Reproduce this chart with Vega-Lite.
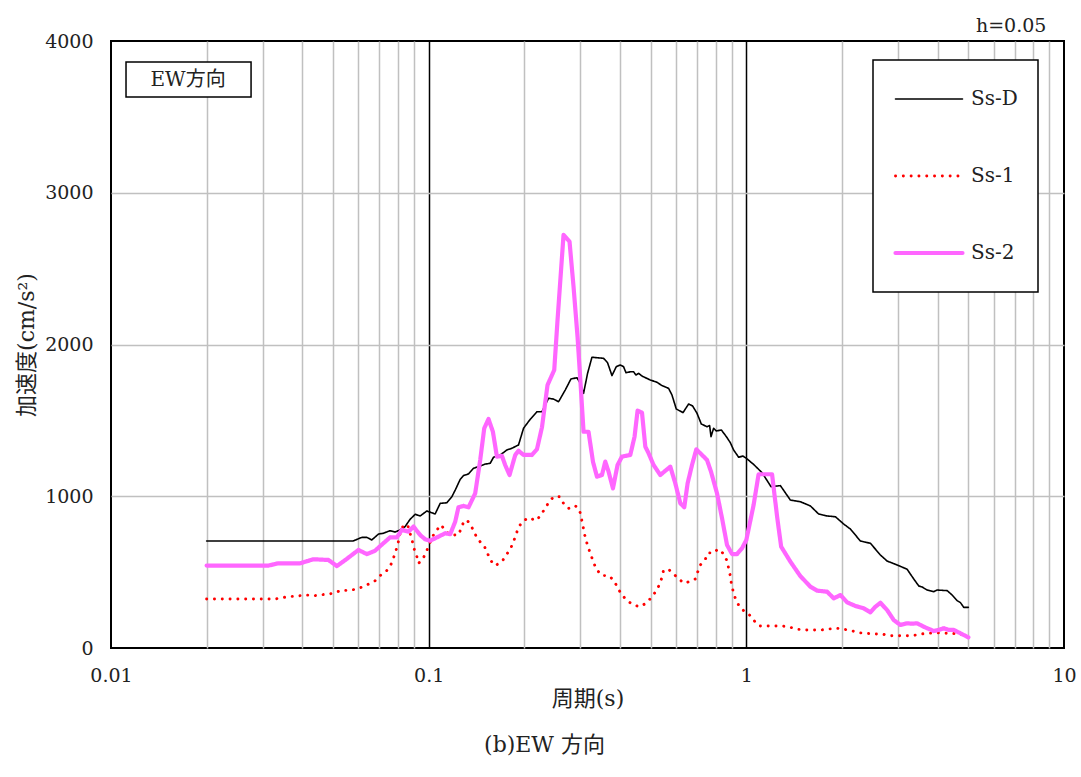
{
  "$schema": "https://vega.github.io/schema/vega-lite/v6.json",
  "width": 953,
  "height": 607,
  "autosize": {"type": "none"},
  "padding": {"left": 111, "top": 41, "right": 17, "bottom": 129},
  "background": "white",
  "title": {"text": "(b)EW 方向", "orient": "bottom", "anchor": "middle", "dx": -43, "offset": 26, "baseline": "top", "fontSize": 22, "fontWeight": "normal", "color": "#222"},
  "datasets": {
    "curves": [
      {"series":"Ss-D","period":0.02,"acc":705},{"series":"Ss-D","period":0.0578,"acc":705},{"series":"Ss-D","period":0.0616,"acc":729},{"series":"Ss-D","period":0.0639,"acc":729},{"series":"Ss-D","period":0.0662,"acc":712},{"series":"Ss-D","period":0.0695,"acc":751},{"series":"Ss-D","period":0.072,"acc":756},{"series":"Ss-D","period":0.0756,"acc":773},{"series":"Ss-D","period":0.0784,"acc":764},{"series":"Ss-D","period":0.0813,"acc":778},{"series":"Ss-D","period":0.0843,"acc":800},{"series":"Ss-D","period":0.0874,"acc":848},{"series":"Ss-D","period":0.0907,"acc":881},{"series":"Ss-D","period":0.094,"acc":870},{"series":"Ss-D","period":0.0987,"acc":903},{"series":"Ss-D","period":0.1048,"acc":883},{"series":"Ss-D","period":0.1087,"acc":953},{"series":"Ss-D","period":0.1141,"acc":957},{"series":"Ss-D","period":0.1183,"acc":997},{"series":"Ss-D","period":0.1212,"acc":1040},{"series":"Ss-D","period":0.1256,"acc":1110},{"series":"Ss-D","period":0.1287,"acc":1136},{"series":"Ss-D","period":0.1335,"acc":1147},{"series":"Ss-D","period":0.1384,"acc":1184},{"series":"Ss-D","period":0.1453,"acc":1199},{"series":"Ss-D","period":0.1507,"acc":1212},{"series":"Ss-D","period":0.1562,"acc":1217},{"series":"Ss-D","period":0.16,"acc":1257},{"series":"Ss-D","period":0.168,"acc":1272},{"series":"Ss-D","period":0.1763,"acc":1305},{"series":"Ss-D","period":0.1828,"acc":1316},{"series":"Ss-D","period":0.1918,"acc":1338},{"series":"Ss-D","period":0.1989,"acc":1448},{"series":"Ss-D","period":0.2088,"acc":1507},{"series":"Ss-D","period":0.2192,"acc":1557},{"series":"Ss-D","period":0.2273,"acc":1557},{"series":"Ss-D","period":0.2384,"acc":1646},{"series":"Ss-D","period":0.2473,"acc":1640},{"series":"Ss-D","period":0.2564,"acc":1623},{"series":"Ss-D","period":0.2691,"acc":1700},{"series":"Ss-D","period":0.2805,"acc":1773},{"series":"Ss-D","period":0.293,"acc":1781},{"series":"Ss-D","period":0.3001,"acc":1744},{"series":"Ss-D","period":0.3073,"acc":1678},{"series":"Ss-D","period":0.3164,"acc":1810},{"series":"Ss-D","period":0.3266,"acc":1916},{"series":"Ss-D","period":0.3553,"acc":1909},{"series":"Ss-D","period":0.3657,"acc":1880},{"series":"Ss-D","period":0.3776,"acc":1795},{"series":"Ss-D","period":0.3896,"acc":1854},{"series":"Ss-D","period":0.401,"acc":1865},{"series":"Ss-D","period":0.4107,"acc":1854},{"series":"Ss-D","period":0.418,"acc":1814},{"series":"Ss-D","period":0.4312,"acc":1820},{"series":"Ss-D","period":0.4416,"acc":1820},{"series":"Ss-D","period":0.4494,"acc":1799},{"series":"Ss-D","period":0.458,"acc":1810},{"series":"Ss-D","period":0.4694,"acc":1792},{"series":"Ss-D","period":0.4985,"acc":1766},{"series":"Ss-D","period":0.5233,"acc":1751},{"series":"Ss-D","period":0.5427,"acc":1729},{"series":"Ss-D","period":0.5692,"acc":1711},{"series":"Ss-D","period":0.5834,"acc":1667},{"series":"Ss-D","period":0.6018,"acc":1575},{"series":"Ss-D","period":0.6318,"acc":1551},{"series":"Ss-D","period":0.6581,"acc":1608},{"series":"Ss-D","period":0.6774,"acc":1595},{"series":"Ss-D","period":0.6993,"acc":1547},{"series":"Ss-D","period":0.7216,"acc":1476},{"series":"Ss-D","period":0.752,"acc":1458},{"series":"Ss-D","period":0.7663,"acc":1466},{"series":"Ss-D","period":0.7741,"acc":1393},{"series":"Ss-D","period":0.7889,"acc":1448},{"series":"Ss-D","period":0.8045,"acc":1430},{"series":"Ss-D","period":0.8343,"acc":1437},{"series":"Ss-D","period":0.865,"acc":1393},{"series":"Ss-D","period":0.8905,"acc":1353},{"series":"Ss-D","period":0.912,"acc":1305},{"series":"Ss-D","period":0.9458,"acc":1257},{"series":"Ss-D","period":0.9763,"acc":1265},{"series":"Ss-D","period":1.0,"acc":1250},{"series":"Ss-D","period":1.054,"acc":1210},{"series":"Ss-D","period":1.121,"acc":1155},{"series":"Ss-D","period":1.196,"acc":1063},{"series":"Ss-D","period":1.28,"acc":1070},{"series":"Ss-D","period":1.376,"acc":975},{"series":"Ss-D","period":1.479,"acc":964},{"series":"Ss-D","period":1.591,"acc":936},{"series":"Ss-D","period":1.689,"acc":883},{"series":"Ss-D","period":1.796,"acc":870},{"series":"Ss-D","period":1.907,"acc":865},{"series":"Ss-D","period":2.025,"acc":817},{"series":"Ss-D","period":2.126,"acc":784},{"series":"Ss-D","period":2.286,"acc":705},{"series":"Ss-D","period":2.458,"acc":690},{"series":"Ss-D","period":2.642,"acc":613},{"series":"Ss-D","period":2.774,"acc":573},{"series":"Ss-D","period":2.983,"acc":547},{"series":"Ss-D","period":3.207,"acc":519},{"series":"Ss-D","period":3.365,"acc":455},{"series":"Ss-D","period":3.489,"acc":409},{"series":"Ss-D","period":3.576,"acc":402},{"series":"Ss-D","period":3.708,"acc":382},{"series":"Ss-D","period":3.89,"acc":371},{"series":"Ss-D","period":3.987,"acc":382},{"series":"Ss-D","period":4.288,"acc":378},{"series":"Ss-D","period":4.446,"acc":349},{"series":"Ss-D","period":4.61,"acc":312},{"series":"Ss-D","period":4.721,"acc":299},{"series":"Ss-D","period":4.835,"acc":268},{"series":"Ss-D","period":5.0,"acc":268},
      {"series":"Ss-1","period":0.02,"acc":323},{"series":"Ss-1","period":0.0329,"acc":323},{"series":"Ss-1","period":0.0345,"acc":332},{"series":"Ss-1","period":0.0366,"acc":339},{"series":"Ss-1","period":0.0389,"acc":343},{"series":"Ss-1","period":0.0408,"acc":351},{"series":"Ss-1","period":0.0434,"acc":343},{"series":"Ss-1","period":0.0455,"acc":351},{"series":"Ss-1","period":0.0484,"acc":354},{"series":"Ss-1","period":0.0508,"acc":365},{"series":"Ss-1","period":0.0533,"acc":382},{"series":"Ss-1","period":0.0559,"acc":378},{"series":"Ss-1","period":0.0587,"acc":387},{"series":"Ss-1","period":0.0623,"acc":404},{"series":"Ss-1","period":0.0654,"acc":426},{"series":"Ss-1","period":0.0678,"acc":443},{"series":"Ss-1","period":0.0707,"acc":481},{"series":"Ss-1","period":0.0742,"acc":514},{"series":"Ss-1","period":0.0766,"acc":562},{"series":"Ss-1","period":0.079,"acc":646},{"series":"Ss-1","period":0.0803,"acc":701},{"series":"Ss-1","period":0.0813,"acc":756},{"series":"Ss-1","period":0.0829,"acc":800},{"series":"Ss-1","period":0.0858,"acc":813},{"series":"Ss-1","period":0.0874,"acc":756},{"series":"Ss-1","period":0.0889,"acc":701},{"series":"Ss-1","period":0.0902,"acc":646},{"series":"Ss-1","period":0.0918,"acc":602},{"series":"Ss-1","period":0.0929,"acc":558},{"series":"Ss-1","period":0.0959,"acc":586},{"series":"Ss-1","period":0.0982,"acc":635},{"series":"Ss-1","period":0.1,"acc":668},{"series":"Ss-1","period":0.1024,"acc":729},{"series":"Ss-1","period":0.1056,"acc":773},{"series":"Ss-1","period":0.1095,"acc":811},{"series":"Ss-1","period":0.1127,"acc":773},{"series":"Ss-1","period":0.1169,"acc":745},{"series":"Ss-1","period":0.1241,"acc":745},{"series":"Ss-1","period":0.1266,"acc":789},{"series":"Ss-1","period":0.1293,"acc":839},{"series":"Ss-1","period":0.1325,"acc":839},{"series":"Ss-1","period":0.1368,"acc":795},{"series":"Ss-1","period":0.1401,"acc":749},{"series":"Ss-1","period":0.1445,"acc":705},{"series":"Ss-1","period":0.1496,"acc":672},{"series":"Ss-1","period":0.1532,"acc":624},{"series":"Ss-1","period":0.1562,"acc":580},{"series":"Ss-1","period":0.162,"acc":543},{"series":"Ss-1","period":0.1701,"acc":569},{"series":"Ss-1","period":0.1754,"acc":613},{"series":"Ss-1","period":0.1806,"acc":650},{"series":"Ss-1","period":0.185,"acc":701},{"series":"Ss-1","period":0.1918,"acc":795},{"series":"Ss-1","period":0.198,"acc":837},{"series":"Ss-1","period":0.2073,"acc":859},{"series":"Ss-1","period":0.2176,"acc":839},{"series":"Ss-1","period":0.2244,"acc":870},{"series":"Ss-1","period":0.2316,"acc":914},{"series":"Ss-1","period":0.2384,"acc":957},{"series":"Ss-1","period":0.2473,"acc":997},{"series":"Ss-1","period":0.2582,"acc":997},{"series":"Ss-1","period":0.2658,"acc":953},{"series":"Ss-1","period":0.2756,"acc":920},{"series":"Ss-1","period":0.2893,"acc":938},{"series":"Ss-1","period":0.2985,"acc":909},{"series":"Ss-1","period":0.3022,"acc":859},{"series":"Ss-1","period":0.306,"acc":806},{"series":"Ss-1","period":0.3089,"acc":756},{"series":"Ss-1","period":0.3134,"acc":705},{"series":"Ss-1","period":0.3186,"acc":657},{"series":"Ss-1","period":0.3243,"acc":613},{"series":"Ss-1","period":0.3304,"acc":562},{"series":"Ss-1","period":0.3387,"acc":514},{"series":"Ss-1","period":0.3512,"acc":477},{"series":"Ss-1","period":0.3684,"acc":477},{"series":"Ss-1","period":0.3819,"acc":448},{"series":"Ss-1","period":0.3932,"acc":400},{"series":"Ss-1","period":0.404,"acc":354},{"series":"Ss-1","period":0.418,"acc":321},{"series":"Ss-1","period":0.4365,"acc":288},{"series":"Ss-1","period":0.4603,"acc":272},{"series":"Ss-1","period":0.4832,"acc":294},{"series":"Ss-1","period":0.5021,"acc":332},{"series":"Ss-1","period":0.5181,"acc":371},{"series":"Ss-1","period":0.5321,"acc":415},{"series":"Ss-1","period":0.5427,"acc":466},{"series":"Ss-1","period":0.5489,"acc":514},{"series":"Ss-1","period":0.5721,"acc":514},{"series":"Ss-1","period":0.5976,"acc":477},{"series":"Ss-1","period":0.6227,"acc":443},{"series":"Ss-1","period":0.6427,"acc":426},{"series":"Ss-1","period":0.6663,"acc":443},{"series":"Ss-1","period":0.6909,"acc":455},{"series":"Ss-1","period":0.7024,"acc":499},{"series":"Ss-1","period":0.7163,"acc":547},{"series":"Ss-1","period":0.7429,"acc":586},{"series":"Ss-1","period":0.7609,"acc":628},{"series":"Ss-1","period":0.7855,"acc":624},{"series":"Ss-1","period":0.8147,"acc":652},{"series":"Ss-1","period":0.8448,"acc":624},{"series":"Ss-1","period":0.8694,"acc":575},{"series":"Ss-1","period":0.8796,"acc":525},{"series":"Ss-1","period":0.8905,"acc":474},{"series":"Ss-1","period":0.8968,"acc":426},{"series":"Ss-1","period":0.908,"acc":378},{"series":"Ss-1","period":0.9233,"acc":327},{"series":"Ss-1","period":0.9458,"acc":283},{"series":"Ss-1","period":0.9806,"acc":246},{"series":"Ss-1","period":1.024,"acc":217},{"series":"Ss-1","period":1.06,"acc":178},{"series":"Ss-1","period":1.101,"acc":145},{"series":"Ss-1","period":1.162,"acc":145},{"series":"Ss-1","period":1.228,"acc":145},{"series":"Ss-1","period":1.301,"acc":145},{"series":"Ss-1","period":1.376,"acc":136},{"series":"Ss-1","period":1.455,"acc":123},{"series":"Ss-1","period":1.534,"acc":119},{"series":"Ss-1","period":1.629,"acc":119},{"series":"Ss-1","period":1.722,"acc":119},{"series":"Ss-1","period":1.816,"acc":125},{"series":"Ss-1","period":1.931,"acc":130},{"series":"Ss-1","period":2.036,"acc":123},{"series":"Ss-1","period":2.141,"acc":114},{"series":"Ss-1","period":2.258,"acc":101},{"series":"Ss-1","period":2.388,"acc":97},{"series":"Ss-1","period":2.53,"acc":92},{"series":"Ss-1","period":2.675,"acc":92},{"series":"Ss-1","period":2.827,"acc":81},{"series":"Ss-1","period":2.983,"acc":81},{"series":"Ss-1","period":3.152,"acc":81},{"series":"Ss-1","period":3.333,"acc":81},{"series":"Ss-1","period":3.532,"acc":92},{"series":"Ss-1","period":3.735,"acc":97},{"series":"Ss-1","period":3.939,"acc":101},{"series":"Ss-1","period":4.165,"acc":97},{"series":"Ss-1","period":4.413,"acc":97},{"series":"Ss-1","period":4.664,"acc":92},{"series":"Ss-1","period":5.0,"acc":80},
      {"series":"Ss-2","period":0.02,"acc":543},{"series":"Ss-2","period":0.0313,"acc":543},{"series":"Ss-2","period":0.0336,"acc":558},{"series":"Ss-2","period":0.0394,"acc":558},{"series":"Ss-2","period":0.0434,"acc":585},{"series":"Ss-2","period":0.0484,"acc":580},{"series":"Ss-2","period":0.0514,"acc":540},{"series":"Ss-2","period":0.0553,"acc":588},{"series":"Ss-2","period":0.0601,"acc":646},{"series":"Ss-2","period":0.0639,"acc":619},{"series":"Ss-2","period":0.0678,"acc":641},{"series":"Ss-2","period":0.072,"acc":690},{"series":"Ss-2","period":0.0756,"acc":729},{"series":"Ss-2","period":0.0794,"acc":729},{"series":"Ss-2","period":0.0823,"acc":778},{"series":"Ss-2","period":0.0864,"acc":767},{"series":"Ss-2","period":0.0896,"acc":800},{"series":"Ss-2","period":0.094,"acc":745},{"series":"Ss-2","period":0.0975,"acc":716},{"series":"Ss-2","period":0.1011,"acc":707},{"series":"Ss-2","period":0.1074,"acc":734},{"series":"Ss-2","period":0.1127,"acc":756},{"series":"Ss-2","period":0.1169,"acc":750},{"series":"Ss-2","period":0.1212,"acc":832},{"series":"Ss-2","period":0.1241,"acc":927},{"series":"Ss-2","period":0.1287,"acc":936},{"series":"Ss-2","period":0.1335,"acc":927},{"series":"Ss-2","period":0.1401,"acc":1019},{"series":"Ss-2","period":0.1453,"acc":1239},{"series":"Ss-2","period":0.1496,"acc":1448},{"series":"Ss-2","period":0.1543,"acc":1509},{"series":"Ss-2","period":0.1593,"acc":1425},{"series":"Ss-2","period":0.164,"acc":1261},{"series":"Ss-2","period":0.1701,"acc":1266},{"series":"Ss-2","period":0.1741,"acc":1206},{"series":"Ss-2","period":0.1797,"acc":1140},{"series":"Ss-2","period":0.1873,"acc":1272},{"series":"Ss-2","period":0.1918,"acc":1300},{"series":"Ss-2","period":0.1989,"acc":1272},{"series":"Ss-2","period":0.2113,"acc":1272},{"series":"Ss-2","period":0.2192,"acc":1309},{"series":"Ss-2","period":0.2273,"acc":1454},{"series":"Ss-2","period":0.2367,"acc":1733},{"series":"Ss-2","period":0.2485,"acc":1832},{"series":"Ss-2","period":0.2545,"acc":2162},{"series":"Ss-2","period":0.2658,"acc":2722},{"series":"Ss-2","period":0.2776,"acc":2678},{"series":"Ss-2","period":0.2858,"acc":2381},{"series":"Ss-2","period":0.2942,"acc":2051},{"series":"Ss-2","period":0.3016,"acc":1700},{"series":"Ss-2","period":0.3073,"acc":1425},{"series":"Ss-2","period":0.3186,"acc":1425},{"series":"Ss-2","period":0.329,"acc":1228},{"series":"Ss-2","period":0.3387,"acc":1129},{"series":"Ss-2","period":0.3512,"acc":1140},{"series":"Ss-2","period":0.3597,"acc":1228},{"series":"Ss-2","period":0.3684,"acc":1162},{"series":"Ss-2","period":0.3803,"acc":1052},{"series":"Ss-2","period":0.3932,"acc":1206},{"series":"Ss-2","period":0.406,"acc":1261},{"series":"Ss-2","period":0.4312,"acc":1272},{"series":"Ss-2","period":0.4448,"acc":1393},{"series":"Ss-2","period":0.4546,"acc":1564},{"series":"Ss-2","period":0.4694,"acc":1551},{"series":"Ss-2","period":0.4808,"acc":1327},{"series":"Ss-2","period":0.4924,"acc":1283},{"series":"Ss-2","period":0.5105,"acc":1206},{"series":"Ss-2","period":0.5359,"acc":1140},{"series":"Ss-2","period":0.5763,"acc":1195},{"series":"Ss-2","period":0.5976,"acc":1085},{"series":"Ss-2","period":0.6196,"acc":954},{"series":"Ss-2","period":0.6377,"acc":927},{"series":"Ss-2","period":0.6533,"acc":1085},{"series":"Ss-2","period":0.6745,"acc":1206},{"series":"Ss-2","period":0.6958,"acc":1309},{"series":"Ss-2","period":0.7253,"acc":1272},{"series":"Ss-2","period":0.752,"acc":1239},{"series":"Ss-2","period":0.7741,"acc":1162},{"series":"Ss-2","period":0.8086,"acc":1019},{"series":"Ss-2","period":0.8385,"acc":855},{"series":"Ss-2","period":0.8694,"acc":679},{"series":"Ss-2","period":0.9016,"acc":619},{"series":"Ss-2","period":0.9348,"acc":619},{"series":"Ss-2","period":0.9694,"acc":657},{"series":"Ss-2","period":1.0,"acc":712},{"series":"Ss-2","period":1.054,"acc":942},{"series":"Ss-2","period":1.093,"acc":1145},{"series":"Ss-2","period":1.205,"acc":1145},{"series":"Ss-2","period":1.25,"acc":865},{"series":"Ss-2","period":1.287,"acc":668},{"series":"Ss-2","period":1.376,"acc":569},{"series":"Ss-2","period":1.479,"acc":474},{"series":"Ss-2","period":1.591,"acc":404},{"series":"Ss-2","period":1.67,"acc":378},{"series":"Ss-2","period":1.796,"acc":371},{"series":"Ss-2","period":1.884,"acc":327},{"series":"Ss-2","period":1.978,"acc":349},{"series":"Ss-2","period":2.076,"acc":301},{"series":"Ss-2","period":2.204,"acc":277},{"series":"Ss-2","period":2.342,"acc":261},{"series":"Ss-2","period":2.458,"acc":235},{"series":"Ss-2","period":2.549,"acc":272},{"series":"Ss-2","period":2.642,"acc":298},{"series":"Ss-2","period":2.774,"acc":250},{"series":"Ss-2","period":2.911,"acc":184},{"series":"Ss-2","period":3.055,"acc":152},{"series":"Ss-2","period":3.207,"acc":163},{"series":"Ss-2","period":3.326,"acc":160},{"series":"Ss-2","period":3.449,"acc":163},{"series":"Ss-2","period":3.618,"acc":140},{"series":"Ss-2","period":3.89,"acc":112},{"series":"Ss-2","period":4.034,"acc":119},{"series":"Ss-2","period":4.183,"acc":130},{"series":"Ss-2","period":4.337,"acc":119},{"series":"Ss-2","period":4.497,"acc":119},{"series":"Ss-2","period":4.721,"acc":97},{"series":"Ss-2","period":5.0,"acc":70}
    ],
    "one": [{}]
  },
  "layer": [
    {
      "data": {"name": "curves"},
      "mark": {"type": "line", "strokeCap": "round", "strokeJoin": "round"},
      "encoding": {
        "x": {
          "field": "period", "type": "quantitative",
          "scale": {"type": "log", "domain": [0.01, 10]},
          "axis": {
            "values": [0.01,0.02,0.03,0.04,0.05,0.06,0.07,0.08,0.09,0.1,0.2,0.3,0.4,0.5,0.6,0.7,0.8,0.9,1,2,3,4,5,6,7,8,9,10],
            "labelExpr": "datum.value == 0.01 ? '0.01' : datum.value == 0.1 ? '0.1' : datum.value == 1 ? '1' : datum.value == 10 ? '10' : ''",
            "labelOverlap": false,
            "labelFlush": false,
            "labelPadding": 18,
            "ticks": false,
            "domain": false,
            "grid": true,
            "gridColor": {"condition": {"test": "datum.value == 0.1 || datum.value == 1", "value": "#000000"}, "value": "#c0c0c0"},
            "gridOpacity": {"condition": {"test": "datum.value == 0.01 || datum.value == 10", "value": 0}, "value": 1},
            "gridWidth": 1.5,
            "title": "周期(s)",
            "titlePadding": 3
          }
        },
        "y": {
          "field": "acc", "type": "quantitative",
          "scale": {"domain": [0, 4000]},
          "axis": {
            "values": [0, 1000, 2000, 3000, 4000],
            "format": "d",
            "labelPadding": 18,
            "ticks": false,
            "domain": false,
            "grid": true,
            "gridColor": "#c0c0c0",
            "gridWidth": 1.5,
            "gridOpacity": {"condition": {"test": "datum.value == 0 || datum.value == 4000", "value": 0}, "value": 1},
            "title": "加速度(cm/s²)",
            "titlePadding": 6
          }
        },
        "color": {
          "field": "series", "type": "nominal",
          "scale": {"domain": ["Ss-D", "Ss-1", "Ss-2"], "range": ["#000000", "#ff0000", "#ff66ff"]},
          "legend": {
            "title": null,
            "orient": "none",
            "legendX": 762,
            "legendY": 19,
            "padding": 20,
            "strokeColor": "#000000",
            "fillColor": "#ffffff",
            "symbolType": "stroke",
            "symbolSize": 4489,
            "clipHeight": 38,
            "rowPadding": 39,
            "labelFontSize": 20,
            "labelColor": "#222",
            "labelOffset": 6,
            "labelLimit": 200,
            "encode": {
              "symbols": {"update": {"strokeCap": {"value": "round"}}},
              "legend": {"update": {"strokeWidth": {"value": 1.5}}}
            }
          }
        },
        "strokeDash": {
          "field": "series", "type": "nominal",
          "scale": {"domain": ["Ss-D", "Ss-1", "Ss-2"], "range": [[1, 0], [0.1, 7.7], [1, 0]]}
        },
        "strokeWidth": {
          "field": "series", "type": "nominal",
          "scale": {"domain": ["Ss-D", "Ss-1", "Ss-2"], "range": [1.6, 4.2, 4]}
        }
      }
    },
    {
      "data": {"name": "one"},
      "mark": {"type": "rect", "fill": "#ffffff", "stroke": "#000000", "strokeWidth": 1.5},
      "encoding": {
        "x": {"datum": 0.01115, "type": "quantitative"},
        "x2": {"datum": 0.0276},
        "y": {"datum": 3862, "type": "quantitative"},
        "y2": {"datum": 3631}
      }
    },
    {
      "data": {"name": "one"},
      "mark": {"type": "text", "text": "EW方向", "fontSize": 20, "align": "center", "baseline": "middle", "color": "#222"},
      "encoding": {
        "x": {"datum": 0.01748, "type": "quantitative"},
        "y": {"datum": 3746, "type": "quantitative"}
      }
    },
    {
      "data": {"name": "one"},
      "mark": {"type": "text", "text": "h=0.05", "fontSize": 19, "align": "right", "baseline": "alphabetic", "dy": -9, "color": "#222"},
      "encoding": {
        "x": {"datum": 8.8, "type": "quantitative"},
        "y": {"datum": 4000, "type": "quantitative"}
      }
    }
  ],
  "config": {
    "font": "DejaVu Serif, Noto Sans CJK JP",
    "view": {"stroke": "#000000", "strokeWidth": 2},
    "axis": {"labelFontSize": 19, "labelColor": "#222", "titleFontSize": 22, "titleFontWeight": "normal", "titleColor": "#222", "labelFont": "DejaVu Serif, Noto Sans CJK JP", "titleFont": "DejaVu Serif, Noto Sans CJK JP"},
    "legend": {"labelFont": "DejaVu Serif, Noto Sans CJK JP"},
    "text": {"font": "DejaVu Serif, Noto Sans CJK JP"},
    "title": {"font": "DejaVu Serif, Noto Sans CJK JP"}
  }
}
